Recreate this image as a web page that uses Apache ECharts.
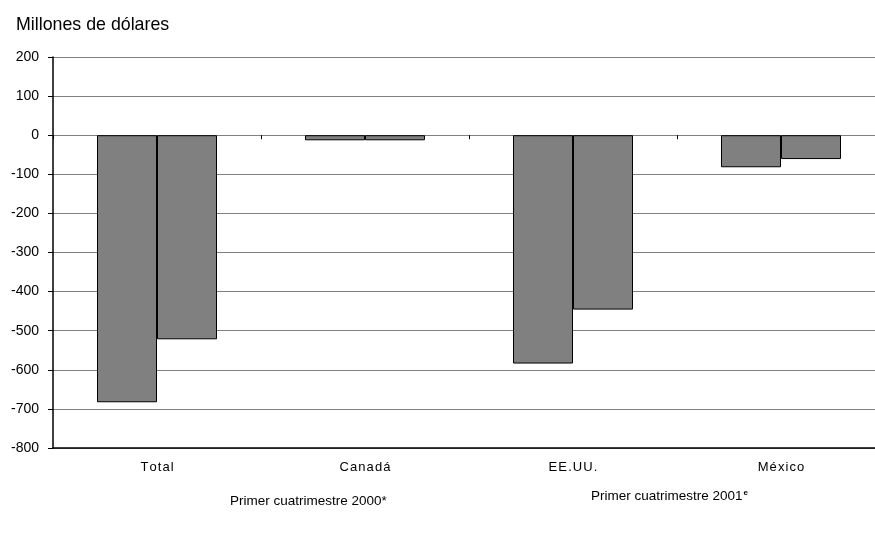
<!DOCTYPE html>
<html><head><meta charset="utf-8">
<script src="https://cdn.jsdelivr.net/npm/echarts@6/dist/echarts.min.js"></script>
<style>html,body{margin:0;padding:0;background:#fff;overflow:hidden;width:875px;height:534px}#c{width:900px;height:534px}</style>
</head><body><div id="c"></div>
<script>
const categories = ['Total', 'Canadá', 'EE.UU.', 'México'];
const series2000 = [-683, -13, -584, -82];
const series2001 = [-522, -13, -446, -61];
const yTicks = { min: -800, max: 200, interval: 100 };
const seriesNames = ['Primer cuatrimestre 2000*', 'Primer cuatrimestre 2001'];

const spaced = s => s.split('').join('\u200A');
const font = 'Liberation Sans, Arial, sans-serif';
const chart = echarts.init(document.getElementById('c'));
const barStyle = { color: '#808080', borderColor: '#000', borderWidth: 1 };
chart.setOption({
  animation: false,
  textStyle: { fontFamily: font },
  title: { text: 'Millones de dólares', left: 11, top: 11,
    textStyle: { fontSize: 17.8, fontWeight: 'normal', color: '#000', fontFamily: font } },
  grid: { left: 53, top: 57, width: 832, height: 391 },
  legend: [
    { data: [seriesNames[0]], left: 225, top: 494, icon: 'none', itemWidth: 0, itemGap: 0, padding: 0,
      textStyle: { fontSize: 13.5, color: '#000', fontFamily: font } },
    { data: [seriesNames[1]], left: 586, top: 489, icon: 'none', itemWidth: 0, itemGap: 0, padding: 0,
      formatter: n => n + '{s|e}',
      textStyle: { fontSize: 13.5, color: '#000', fontFamily: font,
        rich: { s: { fontSize: 8, fontWeight: 'bold', verticalAlign: 'top', padding: [0,0,6,1], color: '#000' } } } }
  ],
  xAxis: [
    { type: 'category', data: categories, position: 'bottom',
      axisLine: { onZero: false, lineStyle: { color: '#000', width: 1.5 } },
      axisTick: { show: false },
      axisLabel: { margin: 13, fontSize: 13, color: '#000', formatter: v => spaced(v) } },
    { type: 'category', data: categories, position: 'bottom',
      axisLine: { onZero: true, lineStyle: { color: '#808080', width: 1 } },
      axisTick: { show: true, length: 4, inside: false, lineStyle: { color: '#000' } },
      axisLabel: { show: false } }
  ],
  yAxis: {
    type: 'value', min: yTicks.min, max: yTicks.max, interval: yTicks.interval,
    axisLine: { show: true, lineStyle: { color: '#000', width: 1.5 } },
    axisTick: { show: true, length: 5, lineStyle: { color: '#000' } },
    axisLabel: { fontSize: 14, color: '#000', margin: 14 },
    splitLine: { lineStyle: { color: '#808080', width: 1 } }
  },
  series: [
    { name: seriesNames[0], type: 'bar', data: series2000, barWidth: 60, barGap: '0%', itemStyle: barStyle },
    { name: seriesNames[1], type: 'bar', data: series2001, barWidth: 60, barGap: '0%', itemStyle: barStyle }
  ]
});
</script></body></html>
